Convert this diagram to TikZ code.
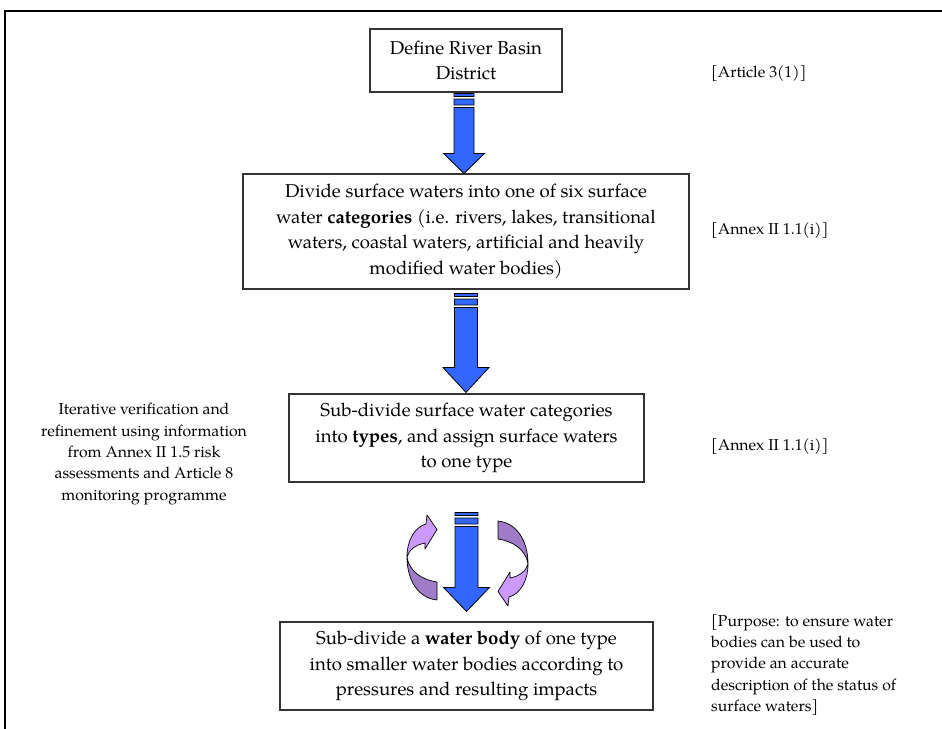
\documentclass[tikz,border=0pt]{standalone}
\usepackage{fontspec}
\setmainfont{TeX Gyre Pagella}
\usetikzlibrary{calc}

\definecolor{arrowblue}{HTML}{3366FF}
\definecolor{lilac}{HTML}{CC99FF}
\definecolor{lilacdark}{HTML}{A07CC8}
\definecolor{boxline}{HTML}{333333}

\tikzset{
  stepbox/.style={draw=boxline, line width=1.1pt, fill=white, align=center,
    inner sep=0pt, font=\fontsize{18.6}{25.5}\selectfont},
  sidenote/.style={align=left, inner sep=0pt, font=\fontsize{15.8}{21.3}\selectfont},
  blockarrow/.style={fill=arrowblue, draw=black, line width=0.8pt, line join=miter},
  turnlight/.style={fill=lilac, draw=black, line width=0.7pt, line join=round},
  turndark/.style={fill=lilacdark, draw=black, line width=0.7pt, line join=round},
}

% striped block arrow: #1 start, #2 tip, #3 shaft half width, #4 head half width, #5 head length
\newcommand\stripedarrow[5]{%
  \path[blockarrow] let \p1=#1, \p2=#2 in
    (\x1-#3,\y1) rectangle (\x1+#3,\y1-3pt)
    (\x1-#3,\y1-5.5pt) rectangle (\x1+#3,\y1-11.5pt)
    (\x1-#3,\y1-14pt) -- (\x1-#3,\y2+#5) -- (\x1-#4,\y2+#5) -- (\x1,\y2)
      -- (\x1+#4,\y2+#5) -- (\x1+#3,\y2+#5) -- (\x1+#3,\y1-14pt) -- cycle;
}

% twisted curved arrow (left-hand one), head at the top
\newcommand\turnarrow{%
  \path[turndark] (407,557) .. controls (407,580) and (418,598) .. (437,600)
    -- (437,582) .. controls (422,580) and (409,571) .. (407,557) -- cycle;
  \path[turnlight] (407,557) .. controls (407,540) and (415,527) .. (426,524)
    -- (427,515) -- (437,529.5) -- (425,549) -- (425,543)
    .. controls (415,545) and (409,550) .. (407,557) -- cycle;
}

\begin{document}
\begin{tikzpicture}[x=1pt, y=-1pt]
\useasboundingbox (0,0) rectangle (942,728);
\clip (0,0) rectangle (942,728);

% page frame
\draw[line width=2pt] (4.5,11) rectangle (960,745);

% process steps
\node[stepbox, minimum width=192pt, minimum height=63pt] (define) at (466,60.5)
  {Define River Basin\\District};
\node[stepbox, minimum width=446pt, minimum height=115pt] (divide) at (466,231.5)
  {Divide surface waters into one of six surface\\
   water \textbf{categories} (i.e. rivers, lakes, transitional\\
   waters, coastal waters, artificial and heavily\\
   modified water bodies)};
\node[stepbox, minimum width=355pt, minimum height=88pt] (subdiv) at (466.5,438)
  {Sub-divide surface water categories\\
   into \textbf{types}, and assign surface waters\\
   to one type};
\node[stepbox, minimum width=373pt, minimum height=88pt] (waterbody) at (466.5,666)
  {Sub-divide a \textbf{water body} of one type\\
   into smaller water bodies according to\\
   pressures and resulting impacts};

% references and notes
\node[sidenote, anchor=west] (art3) at (711,74) {[Article 3(1)]};
\node[sidenote, anchor=west] (annexA) at (711,231) {[Annex II 1.1(i)]};
\node[sidenote, anchor=west] (annexB) at (711,447) {[Annex II 1.1(i)]};
\node[sidenote, anchor=west] (purpose) at (711,665)
  {[Purpose: to ensure water\\bodies can be used to\\provide an accurate\\
   description of the status of\\surface waters]};
\node[sidenote, align=center] (iterate) at (144,454)
  {Iterative verification and\\refinement using information\\from Annex II 1.5 risk\\
   assessments and Article 8\\monitoring programme};

% connectors between the steps
\coordinate (a1s) at ($(define.south)+(-2,1)$);
\coordinate (a2s) at ($(divide.south)+(0,4)$);
\coordinate (a3s) at ($(subdiv.south)+(0,30)$);
\coordinate (a3e) at ($(waterbody.north)+(0,-10)$);
\stripedarrow{(a1s)}{(divide.north)}{10pt}{20.5pt}{20pt}
\stripedarrow{(a2s)}{($(subdiv.north)+(0,-1)$)}{11.5pt}{23pt}{25pt}
\stripedarrow{(a3s)}{(a3e)}{11.5pt}{23pt}{24pt}

% iteration arrows either side of the last connector
\turnarrow
\begin{scope}[rotate around={180:(467.5,560.5)}]
  \turnarrow
\end{scope}
\end{tikzpicture}
\end{document}
